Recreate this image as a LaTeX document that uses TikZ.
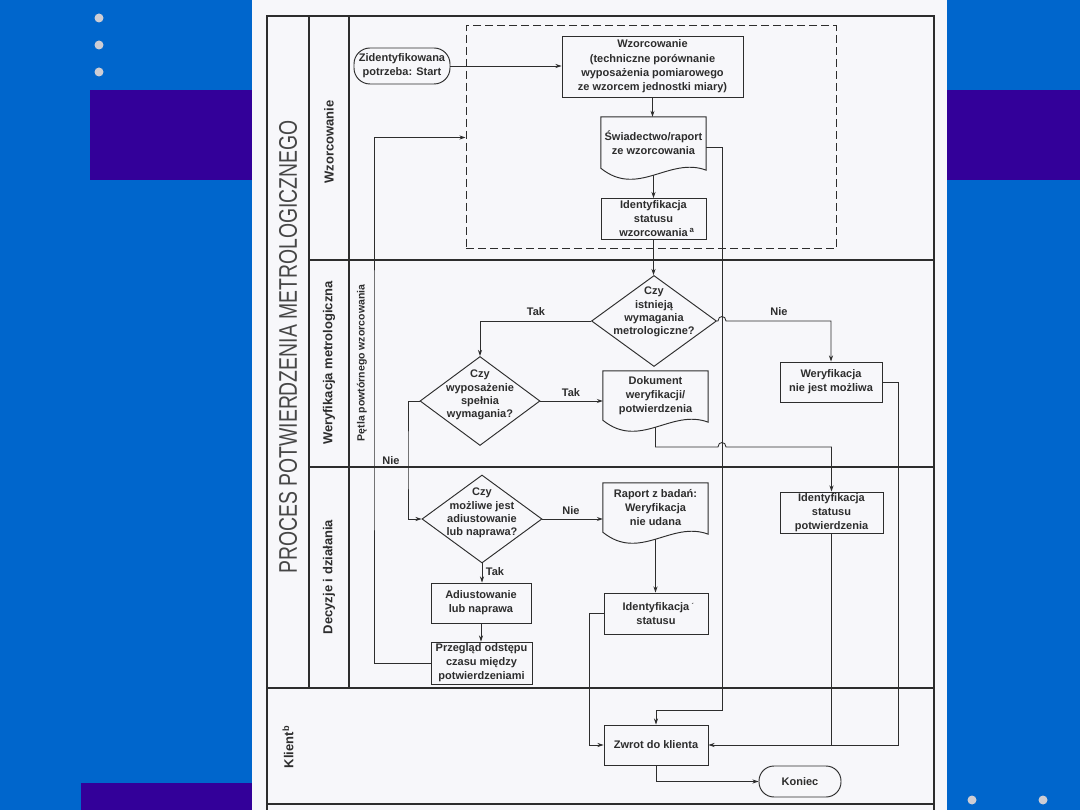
\documentclass[tikz,border=0pt]{standalone}
\usepackage{fontspec}
\setmainfont{Liberation Sans}
\newfontfamily\titlefont[FakeStretch=0.76]{Liberation Sans}
\usetikzlibrary{shapes.geometric,arrows.meta,calc}
\definecolor{bgblue}{RGB}{0,102,204}
\definecolor{bgpurple}{RGB}{51,0,153}
\definecolor{paper}{RGB}{247,247,250}
\definecolor{ink}{RGB}{45,45,45}
\definecolor{titleink}{RGB}{70,70,70}
\definecolor{dotgray}{RGB}{205,205,212}
\newcommand{\docpath}[1]{%
  \draw[docline] (#1.north west) -- (#1.north east) -- ([yshift=-2pt]#1.south east)
    .. controls ([xshift=-37pt,yshift=12pt]#1.south east) and ([xshift=37pt,yshift=-30pt]#1.south west) .. (#1.south west) -- cycle;}
\begin{document}
\begin{tikzpicture}[x=1pt,y=-1pt,
  every node/.style={text=ink},
  txt/.style={font=\bfseries\fontsize{11}{14}\selectfont, align=center, inner sep=0pt},
  procbox/.style={txt, draw=ink, line width=0.95pt, rectangle},
  term/.style={txt, draw=ink, line width=0.95pt, rectangle, rounded corners=16pt},
  decision/.style={draw=ink, line width=0.95pt, diamond, inner sep=0pt},
  docnode/.style={txt, minimum width=105},
  docline/.style={draw=ink, line width=0.95pt},
  lab/.style={font=\bfseries\fontsize{11}{13}\selectfont, inner sep=1pt},
  lane/.style={font=\bfseries\fontsize{13}{15}\selectfont, rotate=90, inner sep=0pt},
  frame/.style={draw=ink, line width=1.3pt},
  conn/.style={draw=ink, line width=0.85pt},
  arr/.style={conn, -{Stealth[length=6pt,width=4pt]}}
]
\useasboundingbox (0,0) rectangle (1080,810);
% slide background
\fill[bgblue] (0,0) rectangle (1080,810);
\fill[bgpurple] (90,90) rectangle (252,180);
\fill[bgpurple] (947,90) rectangle (1080,180);
\fill[bgpurple] (81,783) rectangle (252,810);
\foreach \yy in {18,45,72} \fill[dotgray] (99,\yy) circle[radius=4.5pt];
\fill[dotgray] (972,800) circle[radius=4.5pt];
\fill[dotgray] (1043,800) circle[radius=4.5pt];
\fill[paper] (252,0) rectangle (947,810);
% frame and lanes
\draw[frame] (267,16) rectangle (934,804);
\draw[frame] (267,804) -- (267,810);
\draw[frame] (934,804) -- (934,810);
\draw[frame] (309,16) -- (309,688);
\draw[frame] (349,16) -- (349,688);
\draw[frame] (309,260) -- (934,260);
\draw[frame] (309,467) -- (934,467);
\draw[frame] (267,688) -- (934,688);
% lane labels
\node[font=\titlefont\fontsize{25.5}{30}\selectfont, text=titleink, rotate=90, inner sep=0pt] (title) at (288,347) {PROCES POTWIERDZENIA METROLOGICZNEGO};
\node[lane] (lwz) at (329,142) {Wzorcowanie};
\node[lane] (lwer) at (329,363) {Weryfikacja metrologiczna};
\node[lane] (ldec) at (329,577) {Decyzje i działania};
\node[lane, font=\bfseries\fontsize{10.5}{12}\selectfont] (lpet) at (362,363) {Pętla powtórnego wzorcowania};
\node[lane] (lkl) at (288,747) {Klient\textsuperscript{b}};
% dashed calibration box
\node[draw=ink, line width=1pt, dash pattern=on 8pt off 4pt, minimum width=370, minimum height=223, inner sep=0pt] (dbox) at (651,137.5) {};
% nodes
\node[term, minimum width=96, minimum height=36] (start) at (402,66) {Zidentyfikowana\\potrzeba: Start};
\node[procbox, minimum width=181, minimum height=61, font=\bfseries\fontsize{11}{14.4}\selectfont] (wz) at (652.5,66.5) {Wzorcowanie\\(techniczne porównanie\\wyposażenia pomiarowego\\ze wzorcem jednostki miary)};
\node[docnode, minimum height=51] (docA) at (653.5,142.5) {Świadectwo/raport\\ze wzorcowania};
\docpath{docA}
\node[procbox, minimum width=105, minimum height=41] (idA) at (653.5,219) {Identyfikacja\\statusu\\wzorcowania\rlap{\,\textsuperscript{a}}};
\node[decision, minimum width=125, minimum height=91] (d1) at (654,321) {};
\node[txt, font=\bfseries\fontsize{11}{13.3}\selectfont] (d1t) at (654,312) {Czy\\istnieją\\wymagania\\metrologiczne?};
\node[procbox, minimum width=102, minimum height=40] (wnm) at (831,382) {Weryfikacja\\nie jest możliwa};
\node[decision, minimum width=120, minimum height=89] (d2) at (480,401) {};
\node[txt, font=\bfseries\fontsize{11}{13.3}\selectfont] (d2t) at (480,395) {Czy\\wyposażenie\\spełnia\\wymagania?};
\node[docnode, minimum height=49] (docB) at (655.5,395.5) {Dokument\\weryfikacji/\\potwierdzenia};
\docpath{docB}
\node[decision, minimum width=120, minimum height=88] (d3) at (482,519) {};
\node[txt, font=\bfseries\fontsize{11}{13.3}\selectfont] (d3t) at (482,513) {Czy\\możliwe jest\\adiustowanie\\lub naprawa?};
\node[docnode, minimum height=49] (docC) at (655.5,507.5) {Raport z badań:\\Weryfikacja\\nie udana};
\docpath{docC}
\node[procbox, minimum width=103, minimum height=41] (idP) at (831.5,512.5) {Identyfikacja\\statusu\\potwierdzenia};
\node[procbox, minimum width=100, minimum height=40] (adj) at (481,603) {Adiustowanie\\lub naprawa};
\node[procbox, minimum width=101, minimum height=42] (prz) at (481.5,663) {Przegląd odstępu\\czasu między\\potwierdzeniami};
\node[procbox, minimum width=104, minimum height=41] (idS) at (656,613.5) {Identyfikacja\rlap{\raisebox{2pt}{\scriptsize\,\,´}}\\statusu};
\node[procbox, minimum width=104, minimum height=40] (zw) at (656,745) {Zwrot do klienta};
\node[term, minimum width=82, minimum height=31, rounded corners=15pt] (koniec) at (800,781.5) {Koniec};
% edge labels
\node[lab] (tak1) at (536,312) {Tak};
\node[lab] (nie1) at (779,312) {Nie};
\node[lab] (tak2) at (571,393) {Tak};
\node[lab] (nie2) at (391,461) {Nie};
\node[lab] (nie3) at (571,511) {Nie};
\node[lab] (tak3) at (495,572) {Tak};
% helper coordinates
\coordinate (vx) at (722,0);
\coordinate (bendA) at (722,710);
\coordinate (jumpA) at (d1.east -| vx);
\coordinate (jumpB) at (722,447);
\coordinate (rbend) at (898,745);
\coordinate (lbend) at (589,745);
\coordinate (nbend) at (408,460);
\coordinate (loopc) at (374,400);
% connectors
\draw[arr] (start.east) -- (start.east -| wz.west);
\draw[arr] (wz.south) -- (wz.south |- docA.north);
\draw[arr] ([yshift=-7pt]docA.south) -- (docA.south |- idA.north);
\draw[arr] (idA.south) -- (idA.south |- d1.north);
\draw[arr] ([yshift=-4.5pt]docA.east) -| (bendA) -| (zw.north);
\draw[arr] (d1.west) -| (d2.north);
\draw[arr] (d1.east) -- ([xshift=-4pt]jumpA) .. controls ([xshift=-4pt,yshift=6pt]jumpA) and ([xshift=4pt,yshift=6pt]jumpA) .. ([xshift=4pt]jumpA) -| (wnm.north);
\draw[arr] (wnm.east) -| (rbend) -- (zw.east);
\draw[arr] (d2.east) -- (d2.east -| docB.west);
\draw[arr] ([yshift=-7pt]docB.south) |- ([xshift=-4pt]jumpB) .. controls ([xshift=-4pt,yshift=6pt]jumpB) and ([xshift=4pt,yshift=6pt]jumpB) .. ([xshift=4pt]jumpB) -| (idP.north);
\draw[arr] (d2.west) -| (nbend) |- (d3.west);
\draw[arr] (d3.east) -- (d3.east -| docC.west);
\draw[arr] ([yshift=-7pt]docC.south) -- (docC.south |- idS.north);
\draw[arr] (idS.west) -| (lbend) -- (zw.west);
\draw[arr] (d3.south) -- (d3.south |- adj.north);
\draw[arr] (adj.south) -- (adj.south |- prz.north);
\draw[arr] (prz.west) -| (loopc) |- (dbox.west);
\draw[conn] (idP.south) -- (idP.south |- zw.east);
\draw[arr] (zw.south) |- (koniec.west);
\end{tikzpicture}
\end{document}
